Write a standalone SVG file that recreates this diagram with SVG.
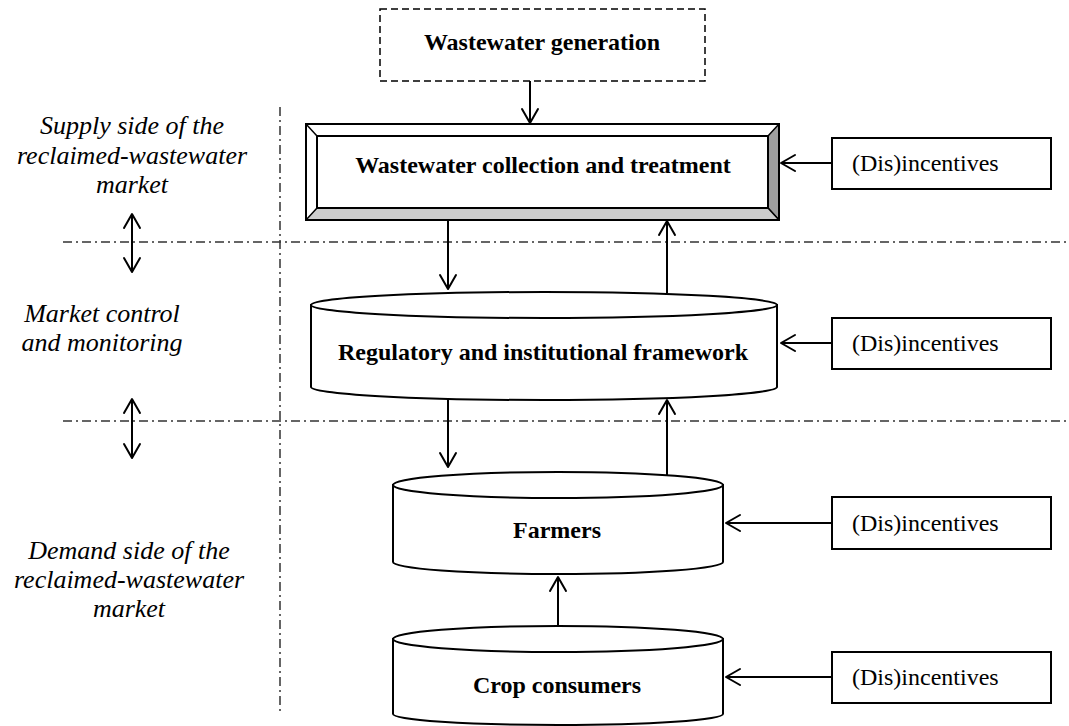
<svg xmlns="http://www.w3.org/2000/svg" width="1069" height="726" viewBox="0 0 1069 726">
<style>
.bt{font-family:"Liberation Serif","Times New Roman",serif;font-weight:bold;font-size:24px;fill:#000;text-anchor:middle}
.it{font-family:"Liberation Serif","Times New Roman",serif;font-style:italic;font-size:26px;fill:#000;text-anchor:middle}
.rt{font-family:"Liberation Serif","Times New Roman",serif;font-size:24px;fill:#000}
.box{fill:#fff;stroke:#000;stroke-width:2}
.cyl{fill:#fff;stroke:#000;stroke-width:2}
.con{stroke:#000;stroke-width:2;fill:none;marker-end:url(#ah)}
.dbl{stroke:#000;stroke-width:2;fill:none;marker-end:url(#ah);marker-start:url(#ahs)}
.dd{stroke:#333;stroke-width:1.5;fill:none;stroke-dasharray:9 4 2 4}
</style>
<defs>
<marker id="ah" markerUnits="userSpaceOnUse" markerWidth="20" markerHeight="20" viewBox="-16 -10 18 20" refX="0" refY="0" orient="auto">
<path d="M-14,-8 L0,0 L-14,8" fill="none" stroke="#000" stroke-width="2" stroke-linejoin="round" stroke-linecap="round"/>
</marker>
<marker id="ahs" markerUnits="userSpaceOnUse" markerWidth="20" markerHeight="20" viewBox="-16 -10 18 20" refX="0" refY="0" orient="auto-start-reverse">
<path d="M-14,-8 L0,0 L-14,8" fill="none" stroke="#000" stroke-width="2" stroke-linejoin="round" stroke-linecap="round"/>
</marker>
</defs>

<g id="dividers">
<line class="dd" x1="280" y1="107" x2="280" y2="715"/>
<line class="dd" x1="63" y1="242" x2="1069" y2="242"/>
<line class="dd" x1="63" y1="421" x2="1069" y2="421"/>
</g>

<g id="labels">
<text class="it" x="132" y="134">Supply side of the</text>
<text class="it" x="132" y="163.5">reclaimed-wastewater</text>
<text class="it" x="132" y="193">market</text>
<text class="it" x="102" y="322">Market control</text>
<text class="it" x="102" y="351">and monitoring</text>
<text class="it" x="129" y="559">Demand side of the</text>
<text class="it" x="129" y="588">reclaimed-wastewater</text>
<text class="it" x="129" y="617">market</text>
</g>

<g id="generation">
<rect x="380" y="9" width="325" height="72" fill="#fff" stroke="#000" stroke-width="1.5" stroke-dasharray="7 4"/>
<text class="bt" x="542" y="50">Wastewater generation</text>
</g>

<g id="collection">
<rect x="306" y="124" width="473" height="96" fill="#fff" stroke="none"/>
<polygon points="768,136 779,124 779,220 768,208" fill="#9e9e9e" stroke="#000" stroke-width="1.5" stroke-linejoin="round"/>
<polygon points="317,208 768,208 779,220 306,220" fill="#cccccc" stroke="#000" stroke-width="1.5" stroke-linejoin="round"/>
<line x1="306" y1="124" x2="317" y2="136" stroke="#000" stroke-width="1.5"/>
<rect x="306" y="124" width="473" height="96" fill="none" stroke="#000" stroke-width="2"/>
<rect x="317" y="136" width="451" height="72" class="box"/>
<text class="bt" x="543" y="173">Wastewater collection and treatment</text>
</g>

<g id="regulatory">
<path class="cyl" d="M311,305 V387 A233,13 0 0 0 777,387 V305 Z"/>
<ellipse class="cyl" cx="544" cy="305" rx="233" ry="13"/>
<text class="bt" x="543" y="360">Regulatory and institutional framework</text>
</g>

<g id="farmers">
<path class="cyl" d="M393,485 V562 A165,12 0 0 0 723,562 V485 Z"/>
<ellipse class="cyl" cx="558" cy="485" rx="165" ry="13"/>
<text class="bt" x="557" y="538">Farmers</text>
</g>

<g id="crop-consumers">
<path class="cyl" d="M393,639 V714 A165,11 0 0 0 723,714 V639 Z"/>
<ellipse class="cyl" cx="558" cy="639" rx="165" ry="13"/>
<text class="bt" x="557" y="693">Crop consumers</text>
</g>

<g id="incentives-1">
<rect class="box" x="832" y="138" width="219" height="51"/>
<text class="rt" x="852" y="171">(Dis)incentives</text>
</g>
<g id="incentives-2">
<rect class="box" x="832" y="318" width="219" height="51"/>
<text class="rt" x="852" y="351">(Dis)incentives</text>
</g>
<g id="incentives-3">
<rect class="box" x="832" y="497" width="219" height="52"/>
<text class="rt" x="852" y="531">(Dis)incentives</text>
</g>
<g id="incentives-4">
<rect class="box" x="832" y="652" width="219" height="51"/>
<text class="rt" x="852" y="685">(Dis)incentives</text>
</g>

<g id="connectors">
<line class="con" x1="530" y1="81" x2="530" y2="123"/>
<line class="con" x1="448" y1="221" x2="448" y2="289"/>
<line class="con" x1="667" y1="293" x2="667" y2="221"/>
<line class="con" x1="448" y1="399" x2="448" y2="467"/>
<line class="con" x1="667" y1="475" x2="667" y2="400"/>
<line class="con" x1="558" y1="626" x2="558" y2="577"/>
<line class="con" x1="832" y1="163" x2="781" y2="163"/>
<line class="con" x1="832" y1="343" x2="781" y2="343"/>
<line class="con" x1="832" y1="523" x2="726" y2="523"/>
<line class="con" x1="832" y1="677" x2="726" y2="677"/>
<line class="dbl" x1="132" y1="214" x2="132" y2="272"/>
<line class="dbl" x1="132" y1="399" x2="132" y2="458"/>
</g>
</svg>
